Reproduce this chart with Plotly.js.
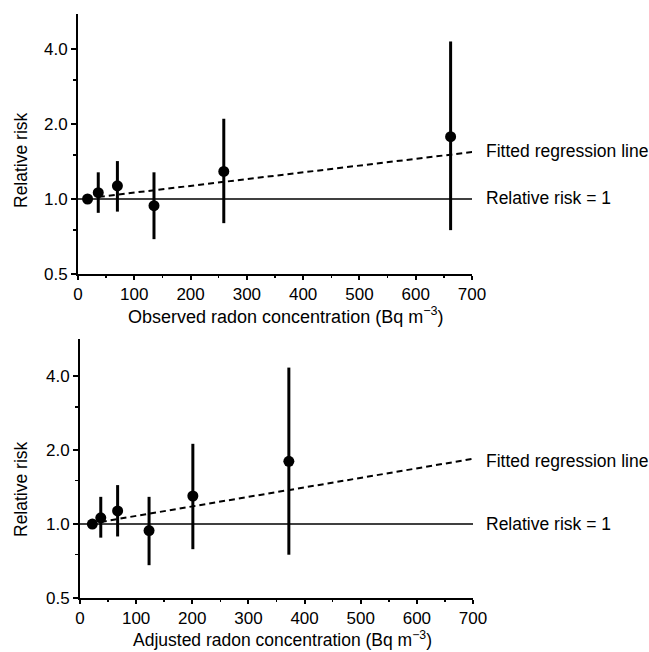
<!DOCTYPE html>
<html><head><meta charset="utf-8">
<script src="https://cdn.plot.ly/plotly-3.0.1.min.js"></script>
<style>html,body{margin:0;padding:0;background:#fff}</style>
</head><body><div id="chart" style="width:649px;height:652px"></div>
<script>
// Top panel: observed radon concentration
const obsX  = [17, 36, 70, 135, 259, 662];
const obsRR = [1.00, 1.06, 1.13, 0.94, 1.29, 1.78];
const obsLo = [1.00, 0.88, 0.89, 0.69, 0.80, 0.75];
const obsHi = [1.00, 1.28, 1.42, 1.28, 2.10, 4.29];
const obsFitX = [37, 707];
const obsFitY = [1.02, 1.55];

// Bottom panel: adjusted radon concentration
const adjX  = [22, 37, 67, 123, 201, 372];
const adjRR = [1.00, 1.06, 1.13, 0.94, 1.30, 1.80];
const adjLo = [1.00, 0.88, 0.89, 0.68, 0.79, 0.75];
const adjHi = [1.00, 1.29, 1.44, 1.29, 2.12, 4.33];
const adjFitX = [37, 705];
const adjFitY = [1.02, 1.85];

const refX = [0, 709];
const refY = [1, 1];

const yTickVals = [0.5, 1, 2, 4];
const yTickText = ['0.5', '1.0', '2.0', '4.0'];
const yMinorVals = [0.75, 1.5, 3];
const xTickVals = [0, 100, 200, 300, 400, 500, 600, 700];

const FONT = 'Liberation Sans, Arial, Helvetica, sans-serif';
const INK = '#000';

function pointTrace(x, y, lo, hi, xa, ya) {
  return {
    x: x, y: y, xaxis: xa, yaxis: ya, type: 'scatter', mode: 'markers',
    marker: {color: INK, size: 11},
    error_y: {type: 'data', symmetric: false,
      array: hi.map((h, i) => h - y[i]),
      arrayminus: lo.map((l, i) => y[i] - l),
      width: 0, thickness: 3, color: INK},
    cliponaxis: false, showlegend: false, hoverinfo: 'x+y'
  };
}
function lineTrace(x, y, xa, ya, dash, w) {
  return {x: x, y: y, xaxis: xa, yaxis: ya, type: 'scatter', mode: 'lines',
    line: {color: INK, width: w, dash: dash}, cliponaxis: false, showlegend: false};
}

const data = [
  lineTrace(refX, refY, 'x', 'y', 'solid', 1.5),
  lineTrace(obsFitX, obsFitY, 'x', 'y', '6px,4px', 2),
  pointTrace(obsX, obsRR, obsLo, obsHi, 'x', 'y'),
  lineTrace(refX, refY, 'x2', 'y2', 'solid', 1.5),
  lineTrace(adjFitX, adjFitY, 'x2', 'y2', '6px,4px', 2),
  pointTrace(adjX, adjRR, adjLo, adjHi, 'x2', 'y2')
];

function xAxis(domain, anchor) {
  return {domain: domain, anchor: anchor, range: [0, 700], showgrid: false, zeroline: false,
    showline: true, linecolor: INK, linewidth: 2, ticks: 'outside', ticklen: 4, tickwidth: 2,
    tickcolor: INK, tickvals: xTickVals, tickfont: {family: FONT, size: 17, color: INK},
    minor: {dtick: 50, ticks: 'outside', ticklen: 2, tickwidth: 1.5, tickcolor: INK, showgrid: false}};
}
function yAxis(domain, anchor, top) {
  return {domain: domain, anchor: anchor, type: 'log', range: [Math.log10(0.5), Math.log10(top)],
    showgrid: false, zeroline: false, showline: true, linecolor: INK, linewidth: 2,
    ticks: 'outside', ticklen: 5, tickwidth: 2, tickcolor: INK,
    tickvals: yTickVals, ticktext: yTickText, tickfont: {family: FONT, size: 17, color: INK},
    minor: {tickvals: yMinorVals, ticks: 'outside', ticklen: 3, tickwidth: 1.5, tickcolor: INK, showgrid: false}};
}

const H = 652, L = 78, PW = 395;
const px = v => (v - L) / PW;
const py = v => 1 - v / H;
function note(x, y, text, size, extra) {
  return Object.assign({xref: 'paper', yref: 'paper', x: px(x), y: py(y), text: text, showarrow: false,
    xanchor: 'left', yanchor: 'middle', font: {size: size, family: FONT, color: INK}}, extra || {});
}

const layout = {
  width: 649, height: 652,
  margin: {l: L, r: 649 - L - PW, t: 0, b: 0},
  paper_bgcolor: '#fff', plot_bgcolor: '#fff',
  font: {family: FONT, color: INK},
  showlegend: false,
  xaxis: xAxis([0, 394/395], 'y'),
  yaxis: yAxis([py(274), py(14)], 'x', 5.53),
  xaxis2: xAxis([2/395, 1], 'y2'),
  yaxis2: yAxis([py(598), py(339)], 'x2', 5.66),
  annotations: [
    note(484, 151, 'Fitted regression line', 17.5),
    note(484, 198, 'Relative risk = 1', 17.5),
    note(484, 461, 'Fitted regression line', 17.5),
    note(484, 524, 'Relative risk = 1', 17.5),
    note(286, 315, 'Observed radon concentration (Bq m<sup>−3</sup>)', 18, {xanchor: 'center'}),
    note(282, 639, 'Adjusted radon concentration (Bq m<sup>−3</sup>)', 17.5, {xanchor: 'center'}),
    note(21, 160, 'Relative risk', 17.5, {xanchor: 'center', textangle: -90}),
    note(21, 489, 'Relative risk', 17.5, {xanchor: 'center', textangle: -90})
  ]
};

Plotly.newPlot('chart', data, layout, {staticPlot: true, displayModeBar: false});
</script>
</body></html>
